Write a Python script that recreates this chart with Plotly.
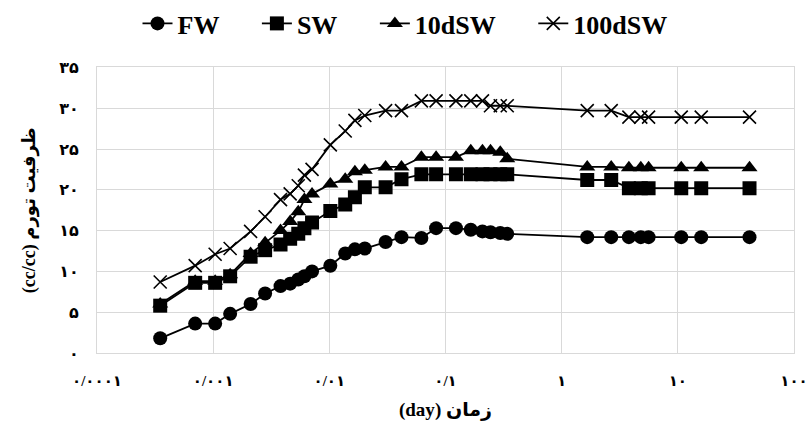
import plotly.graph_objects as go

# time (day)
days = [0.00035, 0.0007, 0.00104, 0.0014, 0.0021, 0.0028, 0.0038, 0.0046, 0.0054, 0.0061, 0.0071,
        0.0102, 0.0137, 0.0166, 0.0202, 0.0305, 0.0418, 0.062, 0.083, 0.123, 0.165, 0.208, 0.244, 0.296, 0.34,
        1.66, 2.67, 3.79, 4.8, 5.6, 10.7, 15.9, 41.4]

fw = [1.8, 3.6, 3.6, 4.8, 6.0, 7.3, 8.2, 8.5, 9.0, 9.4, 10.0,
      10.7, 12.2, 12.7, 12.8, 13.6, 14.2, 14.1, 15.3, 15.3, 15.1, 14.9, 14.8, 14.7, 14.6,
      14.2, 14.2, 14.2, 14.2, 14.2, 14.2, 14.2, 14.2]

sw = [5.8, 8.6, 8.6, 9.4, 11.8, 12.6, 13.3, 14.0, 14.6, 15.3, 16.0,
      17.4, 18.2, 19.1, 20.3, 20.3, 21.3, 21.9, 21.9, 21.9, 21.9, 21.9, 21.9, 21.9, 21.9,
      21.2, 21.2, 20.2, 20.2, 20.2, 20.2, 20.2, 20.2]

dsw10 = [6.0, 8.8, 8.8, 9.6, 12.2, 13.5, 15.0, 16.1, 17.3, 18.8, 19.5,
         20.7, 21.3, 22.2, 22.4, 22.8, 22.8, 24.0, 24.0, 24.0, 24.8, 24.8, 24.8, 24.6, 23.8,
         22.8, 22.8, 22.7, 22.7, 22.7, 22.7, 22.7, 22.7]

dsw100 = [8.7, 10.7, 12.1, 12.8, 14.9, 16.7, 18.8, 19.5, 20.5, 21.8, 22.5,
          25.5, 27.2, 28.5, 29.1, 29.7, 29.7, 30.9, 30.9, 30.9, 30.9, 30.9, 30.3, 30.3, 30.3,
          29.7, 29.7, 28.9, 28.9, 28.9, 28.9, 28.9, 28.9]

series_names = ["FW", "SW", "10dSW", "100dSW"]
x_tickvals = [0.0001, 0.001, 0.01, 0.1, 1, 10, 100]
x_ticktext = ["۰/۰۰۰۱", "۰/۰۰۱", "۰/۰۱", "۰/۱", "۱", "۱۰", "۱۰۰"]
y_tickvals = [0, 5, 10, 15, 20, 25, 30, 35]
y_ticktext = ["۰", "۵", "۱۰", "۱۵", "۲۰", "۲۵", "۳۰", "۳۵"]
x_title = "زمان (day)"
y_title = "ظرفیت تورم (cc/cc)"

RLE, PDF = "\u202B", "\u202C"
FONT = "Liberation Serif, Times New Roman, DejaVu Sans, serif"
PAD = "\u00a0" * 5

fig = go.Figure()
styles = [
    dict(symbol="circle", size=14),
    dict(symbol="square", size=14),
    dict(symbol="triangle-up", size=14),
    dict(symbol="x-thin", size=13, line=dict(width=1.6, color="black")),
]
for i, (name, vals, st) in enumerate(zip(series_names, [fw, sw, dsw10, dsw100], styles)):
    label = name + (PAD if i < len(series_names) - 1 else "")
    fig.add_trace(go.Scatter(
        x=days, y=vals, name=label, mode="lines+markers",
        line=dict(color="black", width=1.8),
        marker=dict(color="black", **st),
    ))

fig.update_layout(
    width=810, height=430,
    margin=dict(l=97, r=16, t=65, b=77),
    paper_bgcolor="white", plot_bgcolor="white",
    font=dict(family=FONT, color="black"),
    legend=dict(orientation="h", xref="container", x=0.5, xanchor="center",
                yref="container", y=1.0, yanchor="top",
                font=dict(size=26, family=FONT, weight="bold"),
                tracegroupgap=0),
    xaxis=dict(type="log", range=[-4, 2], tickvals=x_tickvals, ticktext=x_ticktext,
               showgrid=True, gridcolor="#d9d9d9", gridwidth=1.2,
               showline=True, linecolor="#d9d9d9", linewidth=1.2, mirror=True,
               ticks="", tickfont=dict(size=15, weight="bold"), ticklabelstandoff=14,
               ticklabeloverflow="allow", automargin=False,
               title=dict(text=RLE + x_title + PDF, font=dict(size=19, weight="bold"), standoff=14),
               zeroline=False),
    yaxis=dict(range=[0, 35], tickvals=y_tickvals, ticktext=y_ticktext,
               showgrid=True, gridcolor="#d9d9d9", gridwidth=1.2,
               showline=True, linecolor="#d9d9d9", linewidth=1.2, mirror=True,
               ticks="", tickfont=dict(size=16, weight="bold"), ticklabelstandoff=14,
               title=dict(text=RLE + y_title + PDF, font=dict(size=18, weight="bold"), standoff=18),
               zeroline=False),
)

fig.write_html("out.html")
